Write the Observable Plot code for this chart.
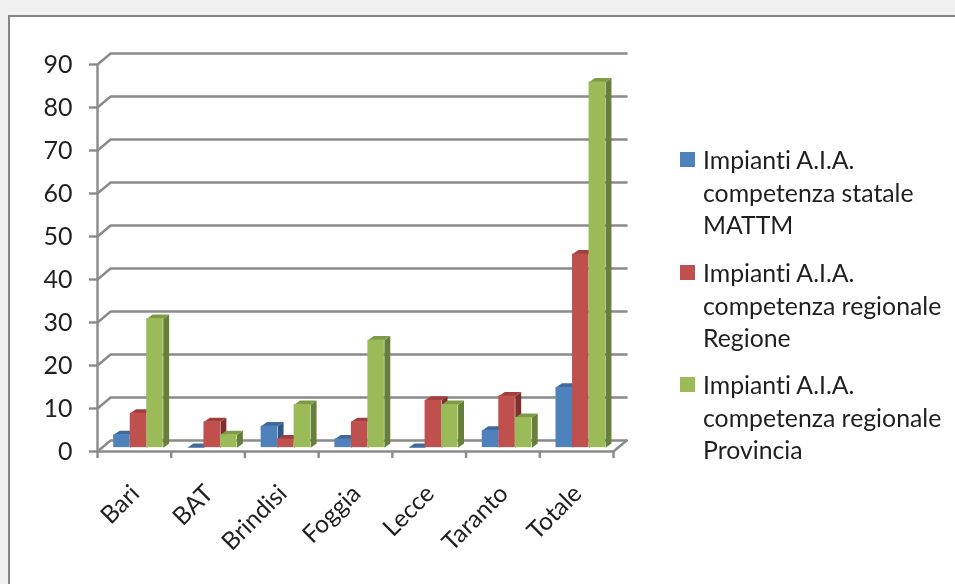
<!DOCTYPE html>
<html>
<head>
<meta charset="utf-8">
<script src="https://cdn.jsdelivr.net/npm/d3@7"></script>
<script src="https://cdn.jsdelivr.net/npm/@observablehq/plot@0.6"></script>
<style>
html,body{margin:0;padding:0;width:955px;height:584px;overflow:hidden;background:#f0f0f0;font-family:Lato,sans-serif;font-variant-ligatures:none;}
#frame{position:absolute;left:8px;top:15px;width:960px;height:580px;background:#fff;border:2px solid #858585;box-sizing:border-box;}
#chart{position:absolute;left:0;top:0;filter:blur(0.45px);}
#chart svg{background:transparent;}
.lg{position:absolute;left:703px;font:24.8px/32.5px Lato,sans-serif;font-variant-ligatures:none;color:#1f1f1f;white-space:nowrap;filter:blur(0.35px);}
.sw{position:absolute;left:680px;width:15px;height:15px;}
</style>
</head>
<body>
<div id="frame"></div>
<div id="chart"></div>
<script>
const categories = ["Bari","BAT","Brindisi","Foggia","Lecce","Taranto","Totale"];
const seriesNames = ["Impianti A.I.A. competenza statale MATTM","Impianti A.I.A. competenza regionale Regione","Impianti A.I.A. competenza regionale Provincia"];
const statale = [3,0,5,2,0,4,14];
const regione = [8,6,2,6,11,12,45];
const provincia = [30,3,10,25,10,7,85];
const yTicks = [0,10,20,30,40,50,60,70,80,90];
const frontColors = ["#4F81BD","#C0504D","#9BBB59"];
const topColors = ["#3F6A9F","#A23F3C","#7F9B47"];
const sideColors = ["#2F5685","#7F2F2D","#667F3A"];

const wallX = 0.178, wallY = 2.55;   // depth of the back wall, in scale units
const barStart = 0.22, barW = 0.224; // bar layout within a category
const liftY = 0.9, depthX = 0.08, depthY = 0.95;

const values = [statale, regione, provincia];
const gridLines = yTicks.flatMap(v => [
  {id:v, x:0, y:v},
  {id:v, x:wallX, y:v+wallY},
  {id:v, x:7+wallX, y:v+wallY}
]);
const floorEnd = [{x:7,y:0},{x:7+wallX,y:wallY}];

const marks = [];
marks.push(Plot.line(gridLines,{x:"x",y:"y",z:"id",stroke:"#8a8a8a",strokeWidth:2.4}));
marks.push(Plot.line(floorEnd,{x:"x",y:"y",stroke:"#8a8a8a",strokeWidth:2.4}));

values.forEach((vals,s)=>{
  const bars = vals.map((v,i)=>({id:i,v,x1:i+barStart+s*barW,x2:i+barStart+(s+1)*barW}));
  const side = bars.flatMap(b=>[
    {id:b.id,x:b.x2,y:liftY},
    {id:b.id,x:b.x2,y:b.v+liftY},
    {id:b.id,x:b.x2+depthX,y:b.v+liftY+depthY},
    {id:b.id,x:b.x2+depthX,y:liftY+depthY}
  ]);
  const top = bars.flatMap(b=>[
    {id:b.id,x:b.x1,y:b.v+liftY},
    {id:b.id,x:b.x2,y:b.v+liftY},
    {id:b.id,x:b.x2+depthX,y:b.v+liftY+depthY},
    {id:b.id,x:b.x1+depthX,y:b.v+liftY+depthY}
  ]);
  marks.push(Plot.line(side,{x:"x",y:"y",z:"id",fill:sideColors[s],stroke:"none"}));
  marks.push(Plot.line(top,{x:"x",y:"y",z:"id",fill:topColors[s],stroke:"none"}));
  marks.push(Plot.rect(bars,{x1:"x1",x2:"x2",y1:liftY,y2:d=>d.v+liftY,fill:frontColors[s]}));
});

marks.push(Plot.ruleX([0],{y1:0,y2:90,stroke:"#8a8a8a",strokeWidth:2.4}));
marks.push(Plot.ruleY([0],{x1:0,x2:7,stroke:"#8a8a8a",strokeWidth:2.4}));
marks.push(Plot.axisY({ticks:yTicks,tickSize:8,stroke:"#8a8a8a",strokeWidth:2.4,tickPadding:17,fontSize:25,label:null,fill:"#1f1f1f"}));
marks.push(Plot.axisX({ticks:d3.range(0,8),tickSize:7,stroke:"#8a8a8a",strokeWidth:2.4,tickFormat:()=>"",label:null}));
marks.push(Plot.text(categories,{
  x:(d,i)=>i+0.5,y:0,text:d=>d,rotate:-45,textAnchor:"end",
  fontSize:24.5,fill:"#1f1f1f",dx:1,dy:38
}));

const chart = Plot.plot({
  width:955,height:584,
  marginLeft:97,marginRight:342,marginTop:64,marginBottom:133,
  style:{fontFamily:"Lato, sans-serif",background:"transparent",overflow:"visible",fontVariantLigatures:"none"},
  x:{domain:[0,7],axis:null},
  y:{domain:[0,90],axis:null},
  marks
});
document.getElementById("chart").append(chart);

const legendLines = [
  ["Impianti A.I.A.","competenza statale","MATTM"],
  ["Impianti A.I.A.","competenza regionale","Regione"],
  ["Impianti A.I.A.","competenza regionale","Provincia"]
];
const legendTops = [144,257,369];
legendLines.forEach((lines,i)=>{
  const sw=document.createElement("div");
  sw.className="sw";sw.style.top=(legendTops[i]+8)+"px";sw.style.background=frontColors[i];
  document.body.append(sw);
  const t=document.createElement("div");
  t.className="lg";t.style.top=legendTops[i]+"px";
  t.innerHTML=lines.join("<br>");
  document.body.append(t);
});
</script>
</body>
</html>
